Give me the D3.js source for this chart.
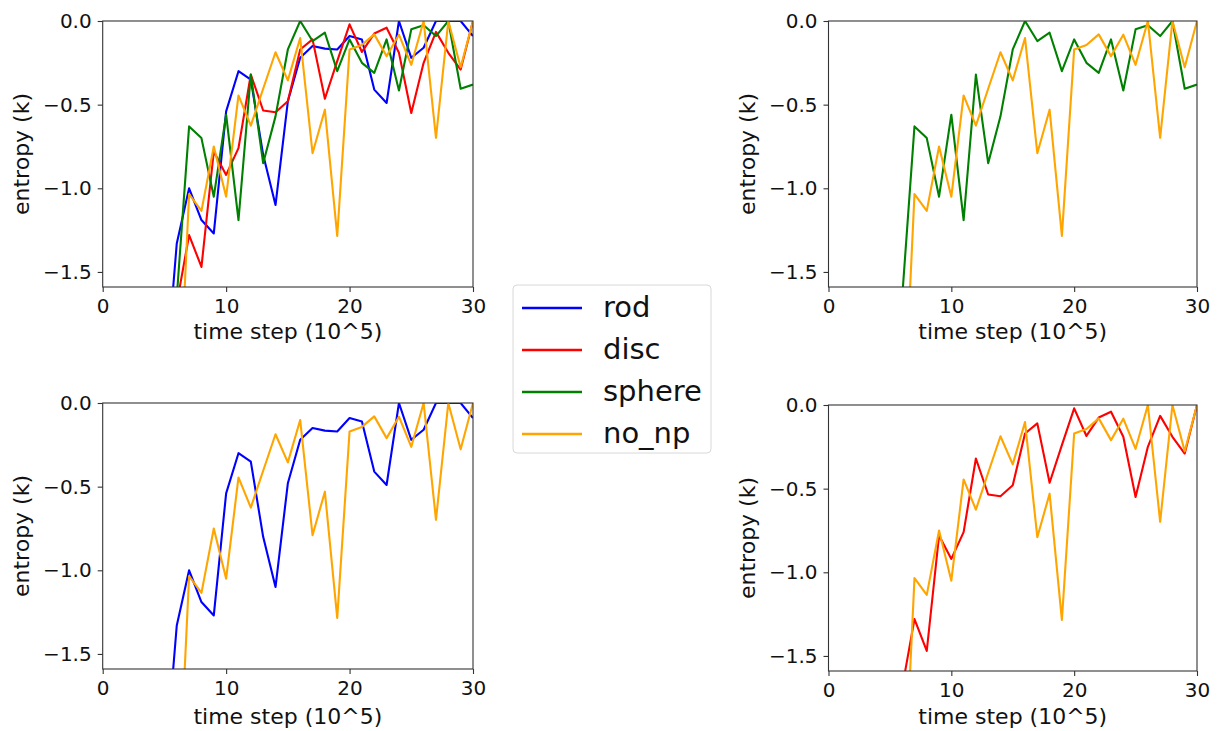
<!DOCTYPE html>
<html>
<head>
<meta charset="utf-8">
<script src="https://cdn.jsdelivr.net/npm/d3@7"></script>
<style>
  html, body { margin: 0; padding: 0; background: #fff; }
  svg { display: block; font-family: "DejaVu Sans", sans-serif; }
</style>
</head>
<body>
<svg id="chart" width="1217" height="731"></svg>
<script>
// time steps (units of 10^5)
const steps = [5, 6, 7, 8, 9, 10, 11, 12, 13, 14, 15, 16, 17, 18, 19, 20,
               21, 22, 23, 24, 25, 26, 27, 28, 29, 30];

// entropy (k) per nanoparticle shape
const rod    = [-2.23, -1.33, -1.00, -1.19, -1.27, -0.54, -0.30, -0.35, -0.80, -1.10,
                -0.48, -0.22, -0.15, -0.165, -0.17, -0.09, -0.11, -0.41, -0.49, 0.0,
                -0.22, -0.16, 0.0, 0.0, 0.0, -0.09];
const disc   = [-2.5, -1.69, -1.28, -1.47, -0.78, -0.92, -0.76, -0.32, -0.535, -0.545,
                -0.48, -0.17, -0.11, -0.465, -0.24, -0.02, -0.185, -0.075, -0.04, -0.19,
                -0.55, -0.25, -0.065, -0.19, -0.29, 0.0];
const sphere = [-3.0, -1.65, -0.63, -0.70, -1.05, -0.56, -1.19, -0.32, -0.85, -0.57,
                -0.17, 0.0, -0.12, -0.07, -0.30, -0.11, -0.25, -0.31, -0.11, -0.415,
                -0.05, -0.025, -0.09, 0.0, -0.405, -0.38];
const noNp   = [-3.6, -2.6, -1.035, -1.135, -0.75, -1.05, -0.445, -0.625, -0.405, -0.187,
                -0.355, -0.102, -0.79, -0.53, -1.285, -0.17, -0.143, -0.08, -0.21, -0.082,
                -0.262, 0.0, -0.698, 0.0, -0.277, 0.0];

const xTicks = [0, 10, 20, 30];
const yTicks = [0.0, -0.5, -1.0, -1.5];
const xDomain = [0, 30];
const yDomain = [-1.59, 0];

const seriesNames = ["rod", "disc", "sphere", "no_np"];
const seriesColors = { rod: "#0000ff", disc: "#ff0000", sphere: "#008000", no_np: "#ffa500" };
const seriesValues = { rod: rod, disc: disc, sphere: sphere, no_np: noNp };

// four panels: frame box, title baseline and which series go in each
const panels = [
  { id: "tl", x0: 102.7, x1: 473,  y0: 21,  y1: 287, titleY: 339, series: ["rod", "disc", "sphere", "no_np"] },
  { id: "tr", x0: 828.5, x1: 1197, y0: 21,  y1: 287, titleY: 339, series: ["sphere", "no_np"] },
  { id: "bl", x0: 102.7, x1: 473,  y0: 403, y1: 669, titleY: 724, series: ["rod", "no_np"] },
  { id: "br", x0: 828.5, x1: 1197, y0: 405, y1: 671, titleY: 724, series: ["disc", "no_np"] }
];

const svg = d3.select("#chart");
const defs = svg.append("defs");
const fmtY = v => (v === 0 ? "0.0" : d3.format(".1f")(v).replace("-", "\u2212"));

panels.forEach(p => {
  const x = d3.scaleLinear().domain(xDomain).range([p.x0, p.x1]);
  const y = d3.scaleLinear().domain(yDomain).range([p.y1, p.y0]);

  defs.append("clipPath").attr("id", "clip-" + p.id)
    .append("rect")
    .attr("x", p.x0).attr("y", p.y0)
    .attr("width", p.x1 - p.x0).attr("height", p.y1 - p.y0);

  const g = svg.append("g");

  // data lines
  const line = d3.line().x((d, i) => x(steps[i])).y(d => y(d));
  const lines = g.append("g").attr("clip-path", "url(#clip-" + p.id + ")");
  p.series.forEach(name => {
    lines.append("path")
      .datum(seriesValues[name])
      .attr("d", line)
      .attr("fill", "none")
      .attr("stroke", seriesColors[name])
      .attr("stroke-width", 2.1)
      .attr("stroke-linejoin", "round");
  });

  // axes
  const xAxis = d3.axisBottom(x).tickValues(xTicks).tickFormat(d3.format("d"))
    .tickSizeInner(5).tickSizeOuter(0).tickPadding(7);
  const yAxis = d3.axisLeft(y).tickValues(yTicks).tickFormat(fmtY)
    .tickSizeInner(5).tickSizeOuter(0).tickPadding(6);

  const gx = g.append("g").attr("transform", `translate(0,${p.y1})`).call(xAxis);
  const gy = g.append("g").attr("transform", `translate(${p.x0},0)`).call(yAxis);
  [gx, gy].forEach(a => {
    a.select(".domain").remove();
    a.selectAll(".tick line").attr("stroke", "#333").attr("stroke-width", 1.1);
    a.selectAll(".tick text").attr("fill", "#111").attr("font-size", 20)
      .attr("font-family", "DejaVu Sans, sans-serif");
  });

  // frame
  g.append("rect")
    .attr("x", p.x0).attr("y", p.y0)
    .attr("width", p.x1 - p.x0).attr("height", p.y1 - p.y0)
    .attr("fill", "none").attr("stroke", "#333").attr("stroke-width", 1.1);

  // axis titles
  g.append("text")
    .attr("x", (p.x0 + p.x1) / 2).attr("y", p.titleY)
    .attr("text-anchor", "middle").attr("font-size", 22).attr("fill", "#111")
    .text("time step (10^5)");
  g.append("text")
    .attr("transform", `translate(${p.x0 - 74},${(p.y0 + p.y1) / 2}) rotate(-90)`)
    .attr("text-anchor", "middle").attr("font-size", 22).attr("fill", "#111")
    .text("entropy (k)");
});

// legend
const legend = svg.append("g");
legend.append("rect")
  .attr("x", 513).attr("y", 285).attr("width", 198).attr("height", 168)
  .attr("rx", 4).attr("fill", "#fff").attr("stroke", "#d8d8d8").attr("stroke-width", 1);
seriesNames.forEach((name, i) => {
  const ly = 308 + i * 42;
  legend.append("line")
    .attr("x1", 522).attr("x2", 582).attr("y1", ly).attr("y2", ly)
    .attr("stroke", seriesColors[name]).attr("stroke-width", 2.6);
  legend.append("text")
    .attr("x", 603).attr("y", ly + 9)
    .attr("font-size", 29).attr("fill", "#111")
    .text(name);
});
</script>
</body>
</html>
